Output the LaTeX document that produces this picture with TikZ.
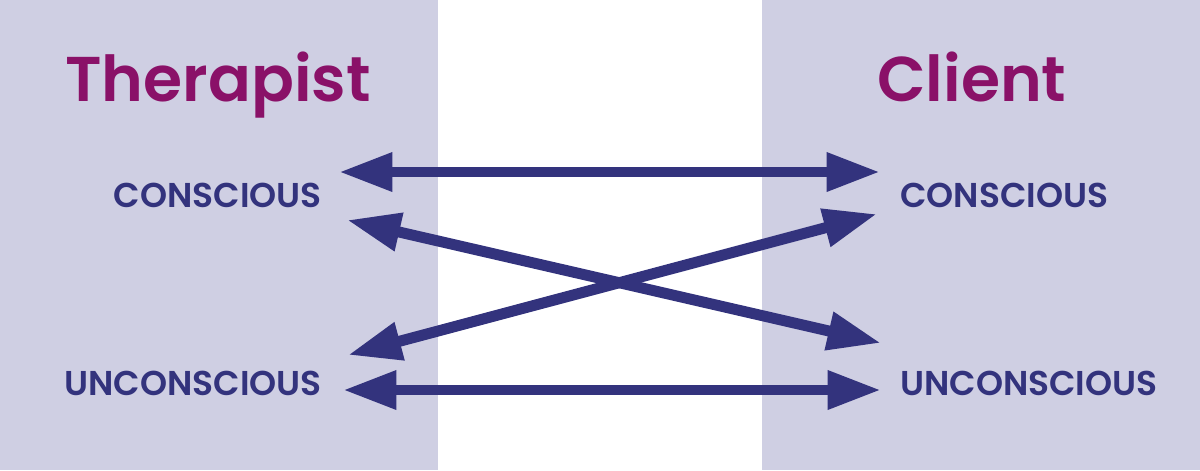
\documentclass[tikz,border=0pt]{standalone}
\usepackage{fontspec}
\setmainfont{Poppins}[UprightFont={* SemiBold}]
\usetikzlibrary{arrows.meta}
\definecolor{panel}{HTML}{CFCFE3}
\definecolor{arrowc}{HTML}{33337D}
\definecolor{titlec}{HTML}{8A1168}
\tikzset{
  conn/.style={draw=arrowc, line width=7.8pt, {Triangle[length=38pt,width=26pt]}-{Triangle[length=38pt,width=26pt]}, fill=none},
  titletext/.style={text=titlec, font=\fontsize{45}{47}\selectfont, inner sep=0pt},
  labeltext/.style={text=arrowc, font=\fontsize{24.5}{26}\selectfont, inner sep=0pt}
}
\begin{document}
\begin{tikzpicture}[x=0.025cm, y=-0.025cm]
\useasboundingbox (0,0) rectangle (1200,470);
\fill[white] (0,0) rectangle (1200,470);
\fill[panel] (0,0) rectangle (438,470);
\fill[panel] (762,0) rectangle (1200,470);

\node[titletext, anchor=base west] (ther) at (65,101) {Therapist};
\node[titletext, anchor=base west] (cli) at (877,101) {Client};

\node[labeltext, anchor=base east] (tc) at (322,207) {CONSCIOUS};
\node[labeltext, anchor=base east] (tu) at (322,395) {UNCONSCIOUS};
\node[labeltext, anchor=base west] (cc) at (900,207) {CONSCIOUS};
\node[labeltext, anchor=base west] (cu) at (900,395) {UNCONSCIOUS};

\coordinate (a1) at (339,172);
\coordinate (b1) at (880,172);
\coordinate (a2) at (347,220);
\coordinate (b2) at (881,343);
\coordinate (a3) at (348,355);
\coordinate (b3) at (877,214);
\coordinate (a4) at (343,390);
\coordinate (b4) at (881,390);

\draw[conn] (a1) -- (b1);
\draw[conn] (a2) -- (b2);
\draw[conn] (a3) -- (b3);
\draw[conn] (a4) -- (b4);
\end{tikzpicture}
\end{document}
